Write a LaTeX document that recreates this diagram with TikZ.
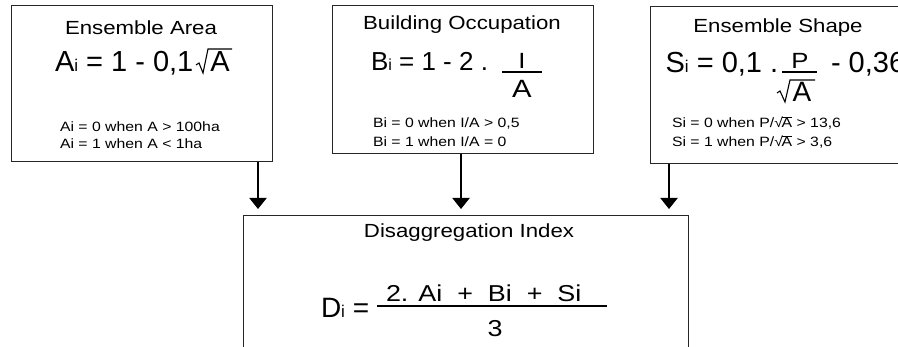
\documentclass[tikz,border=0pt]{standalone}
\usepackage{fontspec}
\setmainfont{Liberation Sans}
\usetikzlibrary{arrows.meta}
\newcommand\hs[1]{\scalebox{1.17}[1]{#1}}
\newcommand\fs[1]{\fontsize{#1}{#1}\selectfont}
\newcommand\srad[1]{√\kern-0.08em\vbox{\hrule height 0.07em\kern0.08em\hbox{#1}}}
\begin{document}
\begin{tikzpicture}[x=1pt,y=-1pt,
  box/.style={draw=black!85, line width=1pt, anchor=north west, inner sep=0pt, outer sep=0pt},
  txt/.style={inner sep=0pt, outer sep=0pt, anchor=base west},
  ctr/.style={inner sep=0pt, outer sep=0pt, anchor=base},
  ttl/.style={ctr, font=\fs{19}},
  cond/.style={txt, font=\fs{13.5}},
  big/.style={txt, font=\fs{29}},
  mid/.style={txt, font=\fs{26}},
  arr/.style={-{Triangle[width=17pt,length=11pt]}, line width=2pt, shorten >=7pt},
  radl/.style={line width=1.1pt, line join=miter},
  barl/.style={line width=1.3pt}
]
\useasboundingbox (0,0) rectangle (898,347);
\clip (0,0) rectangle (898,347);

% boxes
\node[box, minimum width=261pt, minimum height=156pt] (boxA) at (11,6) {};
\node[box, minimum width=261pt, minimum height=148pt] (boxB) at (332,6) {};
\node[box, minimum width=270pt, minimum height=157pt] (boxS) at (650,7) {};
\node[box, minimum width=445pt, minimum height=150pt] (boxD) at (243,216) {};

% titles
\node[ttl] (tA) at (141,35) {\hs{Ensemble Area}};
\node[ttl] (tB) at (462,30) {\hs{Building Occupation}};
\node[ttl] (tS) at (778,33) {\hs{Ensemble Shape}};
\node[ttl] (tD) at (469,238) {\hs{Disaggregation Index}};

% formula A
\node[big] (fA) at (55,72) {A{\fs{17}i} = 1 - 0,1};
\node[ctr, font=\fs{29}] (rA) at (220,72) {A};
\draw[radl] (196,65) -- (199,63) -- (203,73) -- (208,49) -- (232,49);

% formula B
\node[mid] (fB) at (371,71) {B{\fs{16}i} = 1 - 2 .};
\node[ctr, font=\fs{22}] (nB) at (522,69) {\hs{I}};
\node[ctr, font=\fs{25}] (dB) at (522,98) {\hs{A}};
\draw[barl] (502,72) -- (542,72);

% formula S
\node[big] (fS) at (665.6,73) {S{\fs{17}i} = 0,1 .};
\node[ctr, font=\fs{22}] (nS) at (800,69) {\hs{P}};
\node[ctr, font=\fs{28}] (dS) at (802,102) {A};
\draw[barl] (782,72) -- (817,72);
\draw[radl] (777,93) -- (780,91) -- (785,102) -- (790,80) -- (815,80);
\node[big] (gS) at (831,73) {- 0,36};

% conditions
\node[cond] (cA1) at (60,132) {\hs{Ai = 0 when A > 100ha}};
\node[cond] (cA2) at (60,149) {\hs{Ai = 1 when A < 1ha}};
\node[cond] (cB1) at (373,128) {\hs{Bi = 0 when I/A > 0,5}};
\node[cond] (cB2) at (373,147) {\hs{Bi = 1 when I/A = 0}};
\node[cond] (cS1) at (672,128) {\hs{Si = 0 when P/\srad{A} > 13,6}};
\node[cond] (cS2) at (672,147) {\hs{Si = 1 when P/\srad{A} > 3,6}};

% formula D
\node[txt, font=\fs{28}] (fD) at (321,318) {D{\fs{17}i} =};
\node[txt, font=\fs{23}] (nD) at (386,302) {\hs{2. Ai~ +~ Bi~ +~ Si}};
\node[ctr, font=\fs{23}] (dD) at (495,337) {\hs{3}};
\draw[barl] (377,306) -- (607,306);

% arrows
\coordinate (xa) at (258,0);
\coordinate (xb) at (461,0);
\coordinate (xs) at (669,0);
\draw[arr] (boxA.south -| xa) -- (boxD.north -| xa);
\draw[arr] (boxB.south -| xb) -- (boxD.north -| xb);
\draw[arr] (boxS.south -| xs) -- (boxD.north -| xs);
\end{tikzpicture}
\end{document}
